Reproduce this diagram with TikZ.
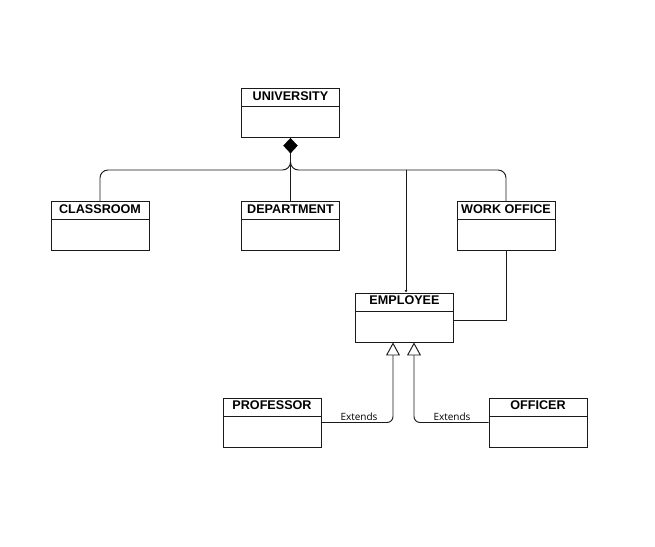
\documentclass[tikz,border=0pt]{standalone}
\usepackage{fontspec}
\setmainfont{Liberation Sans}
\newfontfamily\extfont{Open Sans}
\usetikzlibrary{arrows.meta,shapes.geometric,calc}
\definecolor{lc}{HTML}{1A1A1A}
\tikzset{
  ln/.style={line width=0.95pt, draw=lc},
  cls/.style={ln, rectangle, minimum width=98pt, minimum height=49pt, inner sep=0pt,
    path picture={\draw[line width=0.95pt, draw=lc] ([yshift=-18pt]path picture bounding box.north west) -- ([yshift=-18pt]path picture bounding box.north east);},
    label={[anchor=center, yshift=-8pt, font=\fontsize{12.6}{14}\selectfont\bfseries, inner sep=0pt]north:#1}},
  dia/.style={diamond, fill=black, draw=black, inner sep=0pt, minimum width=14pt, minimum height=15pt},
  gen/.style={ln, rounded corners=6pt, -{Triangle[open, length=13pt, width=14pt, fill=white]}},
  ext/.style={font=\extfont\fontsize{10}{12}\selectfont, inner sep=0pt, anchor=base},
}
\begin{document}
\begin{tikzpicture}[x=1pt, y=-1pt]
\useasboundingbox (0,0) rectangle (655,546);
\node[cls=UNIVERSITY] (u) at (290.5,113) {};
\node[cls=CLASSROOM] (cls) at (100,226) {};
\node[cls=DEPARTMENT] (dep) at (290.5,226) {};
\node[cls=WORK OFFICE] (wo) at (506,226) {};
\node[cls=EMPLOYEE] (emp) at (404.5,317.5) {};
\node[cls=PROFESSOR] (prof) at (272,422.5) {};
\node[cls=OFFICER] (off) at (538,422.5) {};
\node[dia, anchor=north] (d) at (u.south) {};
\coordinate (br) at (290.5,170);
\coordinate (j) at (406,170);
\draw[ln, rounded corners=8pt] (d.south) -- (br) -| (cls.north);
\draw[ln, rounded corners=8pt] (d.south) -- (br) -| (wo.north);
\draw[ln] (d.south) -- (dep.north);
\draw[ln, -{Latex[length=2.5pt, width=3pt]}] (j) -- (j |- emp.north);
\draw[ln] (wo.south) |- ($(emp.east)+(0,2.5)$);
\draw[gen] (prof.east) -| ($(emp.south)+(-11.5,0)$);
\draw[gen] (off.west) -| ($(emp.south)+(9.5,0)$);
\node[ext] (e1) at (359,420.5) {Extends};
\node[ext] (e2) at (452,420.5) {Extends};
\end{tikzpicture}
\end{document}
